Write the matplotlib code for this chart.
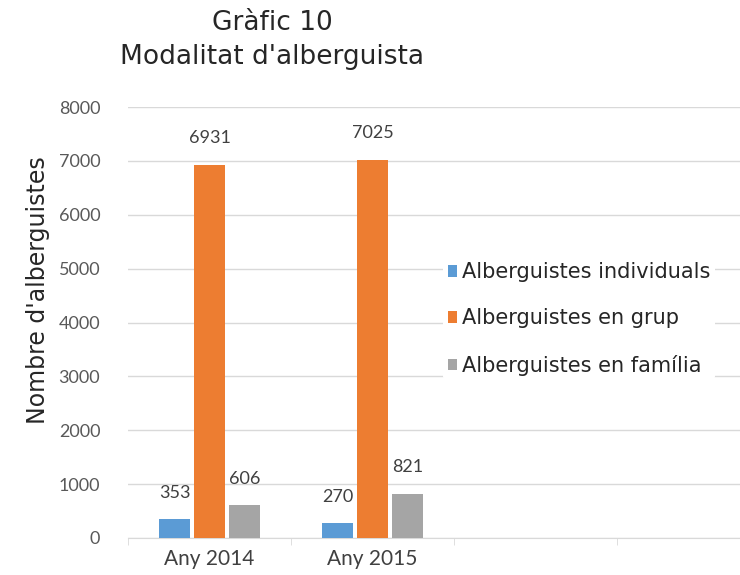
import matplotlib.pyplot as plt
from matplotlib.patches import Patch

# chart data
categories = ["Any 2014", "Any 2015", "", ""]
series_names = ["Alberguistes individuals", "Alberguistes en grup", "Alberguistes en família"]
individuals = [353, 270]
grup = [6931, 7025]
familia = [606, 821]
y_ticks = [0, 1000, 2000, 3000, 4000, 5000, 6000, 7000, 8000]

colors = ["#5B9BD5", "#ED7D31", "#A5A5A5"]
W, H = 740, 575

fig = plt.figure(figsize=(W / 100, H / 100), dpi=100)
# plot area runs past the right edge, like the cropped original
ax = fig.add_axes([128 / W, (H - 538) / H, 4 * 163 / W, (538 - 107) / H])

width = 0.19
offsets = [-0.215, 0.0, 0.215]
for values, off, color in zip([individuals, grup, familia], offsets, colors):
    xs = [i + off for i in range(len(values))]
    bars = ax.bar(xs, values, width=width, color=color, zorder=3)
    for b, v in zip(bars, values):
        ax.annotate(str(v), (b.get_x() + b.get_width() / 2, v),
                    xytext=(0, 19), textcoords="offset points",
                    ha="center", va="center", fontsize=13,
                    family="Lato", color="#404040")

ax.set_xlim(-0.5, len(categories) - 0.5)
ax.set_ylim(0, 8000)
ax.set_yticks(y_ticks)
ax.set_yticklabels([str(t) for t in y_ticks], family="Lato", fontsize=13, color="#595959")
ax.set_xticks(range(len(categories)))
ax.set_xticklabels(categories, family="Lato", fontsize=15, color="#404040")
ax.set_xticks([i - 0.5 for i in range(len(categories) + 1)], minor=True)
ax.tick_params(axis="x", which="major", length=0, pad=8)
ax.tick_params(axis="x", which="minor", length=5, color="#D9D9D9")
ax.tick_params(axis="y", length=0, pad=20)

ax.grid(axis="y", color="#D9D9D9", linewidth=1, zorder=0)
for side in ("left", "right", "top"):
    ax.spines[side].set_visible(False)
ax.spines["bottom"].set_color("#D9D9D9")

fig.text(272 / W, 1 - 40 / H, "Gràfic 10\nModalitat d'alberguista",
         ha="center", va="center", fontsize=19, linespacing=1.4, color="#262626")
fig.text(38 / W, 1 - 290 / H, "Nombre d'alberguistes", rotation=90,
         ha="center", va="center", fontsize=17, color="#262626")

handles = [Patch(facecolor=c) for c in colors]
fig.legend(handles, series_names, loc="center left",
           bbox_to_anchor=(433 / W, 1 - 319 / H), frameon=True,
           facecolor="white", edgecolor="none", framealpha=1,
           fontsize=15, handlelength=0.45, handleheight=0.45,
           handletextpad=0.25, labelspacing=1.25, borderpad=0.2,
           labelcolor="#262626")

fig.savefig("out.png", dpi=100)
